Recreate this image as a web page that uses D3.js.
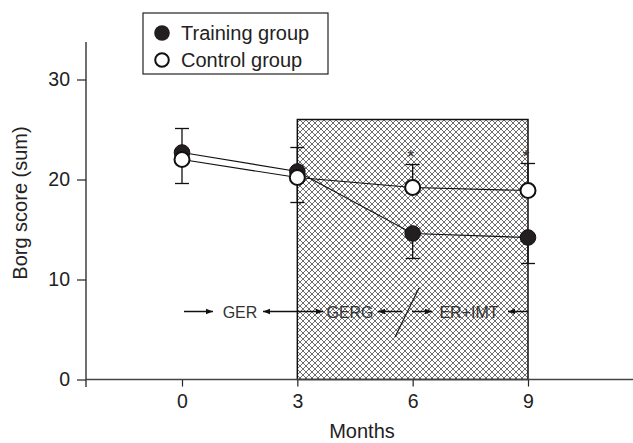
<!DOCTYPE html>
<html><head><meta charset="utf-8">
<script src="https://cdn.jsdelivr.net/npm/d3@7/dist/d3.min.js"></script>
<style>body{margin:0;background:#fff;} svg{display:block;font-family:Arial,"Liberation Sans",sans-serif;}</style>
</head><body>
<svg id="c" width="633" height="443"></svg>
<script>
const months = [0, 3, 6, 9];
const trainingMean = [22.7, 20.8, 14.6, 14.2];
const trainingErr  = [25.1, 23.2, 12.1, 11.6]; // end of visible error bar
const controlMean  = [22.0, 20.2, 19.2, 18.9];
const controlErr   = [19.6, 17.7, 21.5, 21.6];
const xTicks = [0, 3, 6, 9];
const yTicks = [0, 10, 20, 30];
const asterisks = [6, 9];
const shadedRange = [3, 9];
const shadedTop = 26;
const legendLabels = ["Training group", "Control group"];

const svg = d3.select("#c");
const x = d3.scaleLinear().domain([0, 9]).range([182, 528]);
const y = d3.scaleLinear().domain([0, 30]).range([379.5, 79.5]);
const x0 = x.invert(86), x1 = x.invert(633);

// hatch pattern
const defs = svg.append("defs");
const pat = defs.append("pattern").attr("id","hatch").attr("patternUnits","userSpaceOnUse")
  .attr("width",6).attr("height",6);
pat.append("rect").attr("width",6).attr("height",6).attr("fill","#fff");
pat.append("path").attr("d","M0,0L6,6M-3,3L3,9M3,-3L9,3").attr("stroke","#6e6e6e").attr("stroke-width",1);
pat.append("path").attr("d","M0,6L6,0M-3,3L3,-3M3,9L9,3").attr("stroke","#6e6e6e").attr("stroke-width",1);

svg.append("rect").attr("x", x(shadedRange[0])).attr("y", y(shadedTop))
  .attr("width", x(shadedRange[1]) - x(shadedRange[0])).attr("height", y(0) - y(shadedTop))
  .attr("fill","url(#hatch)").attr("stroke","#111").attr("stroke-width",1.5);

// axes
const yAxis = svg.append("g").attr("transform",`translate(${x(x0)},0)`)
  .call(d3.axisLeft(y).tickValues(yTicks).tickSize(9).tickPadding(7).tickFormat(d3.format("d")));
yAxis.select(".domain").remove();
svg.append("line").attr("x1",x(x0)).attr("x2",x(x0)).attr("y1",42).attr("y2",387).attr("stroke","#222").attr("stroke-width",1.3);
const xAxis = svg.append("g").attr("transform",`translate(0,${y(0)})`)
  .call(d3.axisBottom(x).tickValues(xTicks).tickSize(7).tickPadding(8).tickFormat(d3.format("d")));
xAxis.select(".domain").remove();
svg.append("line").attr("x1",x(x0)).attr("x2",x(x1)).attr("y1",y(0)).attr("y2",y(0)).attr("stroke","#444").attr("stroke-width",1.3);
svg.selectAll(".tick line").attr("stroke","#222").attr("stroke-width",1.2);
svg.selectAll(".tick text").attr("font-size",19.5).attr("fill","#222").attr("font-family","Arial, Liberation Sans, sans-serif");

svg.append("text").attr("x",362).attr("y",438).attr("text-anchor","middle").attr("font-size",20).attr("fill","#222").text("Months");
svg.append("text").attr("transform","translate(27,203) rotate(-90)").attr("text-anchor","middle").attr("font-size",20).attr("fill","#222").text("Borg score (sum)");

// annotation row
const ay = y(6.8);
defs.append("marker").attr("id","ah").attr("viewBox","0 0 10 10").attr("refX",10).attr("refY",5)
  .attr("markerWidth",7).attr("markerHeight",7).attr("markerUnits","userSpaceOnUse").attr("orient","auto-start-reverse")
  .append("path").attr("d","M0,1L10,5L0,9Z").attr("fill","#111");
const arrows = [[184,213,false,true],[263,323,true,true],[378,402,true,false],[412,432,false,true],[508,528,true,false]];
arrows.forEach(a=>{
  const l = svg.append("line").attr("x1",a[0]).attr("x2",a[1]).attr("y1",ay).attr("y2",ay).attr("stroke","#111").attr("stroke-width",1.5);
  if(a[2]) l.attr("marker-start","url(#ah)");
  if(a[3]) l.attr("marker-end","url(#ah)");
});
svg.append("line").attr("x1",419).attr("y1",288).attr("x2",395).attr("y2",337).attr("stroke","#111").attr("stroke-width",1.2);
[["GER",240],["GERG",350],["ER+IMT",469]].forEach(t=>{
  svg.append("text").attr("x",t[1]).attr("y",ay+6).attr("text-anchor","middle").attr("font-size",16).attr("fill","#333").text(t[0]);
});

// error bars
function errBars(mean, err){
  months.forEach((m,i)=>{
    svg.append("line").attr("x1",x(m)).attr("x2",x(m)).attr("y1",y(mean[i])).attr("y2",y(err[i])).attr("stroke","#111").attr("stroke-width",1.3);
    svg.append("line").attr("x1",x(m)-7).attr("x2",x(m)+7).attr("y1",y(err[i])).attr("y2",y(err[i])).attr("stroke","#111").attr("stroke-width",1.3);
  });
}
errBars(trainingMean, trainingErr);
errBars(controlMean, controlErr);

const line = d3.line().x((d,i)=>x(months[i])).y(d=>y(d));
svg.append("path").attr("d",line(trainingMean)).attr("fill","none").attr("stroke","#111").attr("stroke-width",1.2);
svg.append("path").attr("d",line(controlMean)).attr("fill","none").attr("stroke","#111").attr("stroke-width",1.2);

svg.selectAll(".tr").data(trainingMean).enter().append("circle")
  .attr("cx",(d,i)=>x(months[i])).attr("cy",d=>y(d)).attr("r",7.8).attr("fill","#231f20").attr("stroke","#111").attr("stroke-width",1);
svg.selectAll(".co").data(controlMean).enter().append("circle")
  .attr("cx",(d,i)=>x(months[i])).attr("cy",d=>y(d)).attr("r",7.5).attr("fill","#fff").attr("stroke","#111").attr("stroke-width",2);

asterisks.forEach(m=>{
  svg.append("text").attr("x",x(m)-2).attr("y",163).attr("text-anchor","middle").attr("font-size",18).attr("fill","#333").text("*");
});

// legend
svg.append("rect").attr("x",143).attr("y",13).attr("width",185).attr("height",61).attr("fill","#fff").attr("stroke","#222").attr("stroke-width",1.2);
svg.append("circle").attr("cx",162).attr("cy",33).attr("r",7.8).attr("fill","#231f20");
svg.append("circle").attr("cx",162).attr("cy",60).attr("r",6.8).attr("fill","#fff").attr("stroke","#111").attr("stroke-width",2);
svg.append("text").attr("x",181).attr("y",40).attr("font-size",20).attr("fill","#222").text(legendLabels[0]);
svg.append("text").attr("x",181).attr("y",67).attr("font-size",20).attr("fill","#222").text(legendLabels[1]);
</script>
</body></html>
